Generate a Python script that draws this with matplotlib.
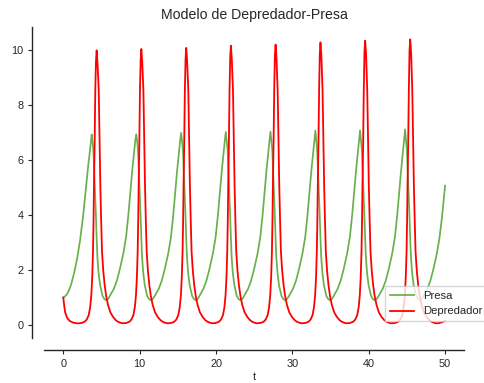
import matplotlib
matplotlib.use("Agg")
import matplotlib.pyplot as plt

titulo = "Modelo de Depredador-Presa"
etiqueta_x = "t"
nombres = ["Presa", "Depredador"]
x_ticks = [0, 10, 20, 30, 40, 50]
y_ticks = [0, 2, 4, 6, 8, 10]

t_presa = [
    0.00, 0.25, 0.50, 0.75, 1.00, 1.40, 1.80, 2.20, 2.60, 3.00, 3.30, 3.50, 3.72, 3.82, 3.94, 4.05, 4.15, 4.27, 4.37, 4.47, 4.62, 4.82, 5.14, 5.37, 5.57, 5.87,
    6.12, 6.62, 7.02, 7.42, 7.86, 8.22, 8.52, 8.77, 9.02, 9.29, 9.42, 9.55, 9.67, 9.79, 9.90, 10.00, 10.12, 10.22, 10.32, 10.47, 10.67, 10.99, 11.22, 11.42, 11.72,
    12.00, 12.50, 12.90, 13.30, 13.74, 14.10, 14.40, 14.65, 14.90, 15.17, 15.30, 15.43, 15.55, 15.67, 15.78, 15.88, 16.00, 16.10, 16.20, 16.35, 16.55, 16.87, 17.10, 17.30, 17.60,
    17.85, 18.35, 18.75, 19.15, 19.59, 19.95, 20.25, 20.50, 20.75, 21.02, 21.15, 21.28, 21.40, 21.52, 21.63, 21.73, 21.85, 21.95, 22.05, 22.20, 22.40, 22.72, 22.95, 23.15, 23.45,
    23.70, 24.20, 24.60, 25.00, 25.44, 25.80, 26.10, 26.35, 26.60, 26.87, 27.00, 27.13, 27.25, 27.37, 27.48, 27.58, 27.70, 27.80, 27.90, 28.05, 28.25, 28.57, 28.80, 29.00, 29.30,
    29.58, 30.08, 30.48, 30.88, 31.32, 31.68, 31.98, 32.23, 32.48, 32.75, 32.88, 33.01, 33.13, 33.25, 33.36, 33.46, 33.58, 33.68, 33.78, 33.93, 34.13, 34.45, 34.68, 34.88, 35.18,
    35.43, 35.93, 36.33, 36.73, 37.17, 37.53, 37.83, 38.08, 38.33, 38.60, 38.73, 38.86, 38.98, 39.10, 39.21, 39.31, 39.43, 39.53, 39.63, 39.78, 39.98, 40.30, 40.53, 40.73, 41.03,
    41.33, 41.83, 42.23, 42.63, 43.07, 43.43, 43.73, 43.98, 44.23, 44.50, 44.63, 44.76, 44.88, 45.00, 45.11, 45.21, 45.33, 45.43, 45.53, 45.68, 45.88, 46.20, 46.43, 46.63, 46.93,
    47.18, 47.68, 48.08, 48.48, 48.92, 49.28, 49.58, 50.00,
]
presa = [
    1.00, 1.05, 1.13, 1.27, 1.45, 1.87, 2.40, 3.09, 3.98, 5.09, 5.90, 6.36, 6.93, 6.70, 6.36, 5.60, 4.95, 4.00, 3.15, 2.45, 1.90, 1.45, 1.06, 0.95, 0.91, 0.95,
    1.07, 1.32, 1.62, 2.05, 2.60, 3.20, 4.00, 4.80, 5.60, 6.36, 6.70, 6.94, 6.70, 6.36, 5.60, 4.95, 4.00, 3.15, 2.45, 1.90, 1.45, 1.06, 0.95, 0.91, 0.95,
    1.07, 1.32, 1.62, 2.05, 2.60, 3.20, 4.00, 4.80, 5.60, 6.36, 6.70, 6.99, 6.70, 6.36, 5.60, 4.95, 4.00, 3.15, 2.45, 1.90, 1.45, 1.06, 0.95, 0.91, 0.95,
    1.07, 1.32, 1.62, 2.05, 2.60, 3.20, 4.00, 4.80, 5.60, 6.36, 6.70, 7.02, 6.70, 6.36, 5.60, 4.95, 4.00, 3.15, 2.45, 1.90, 1.45, 1.06, 0.95, 0.91, 0.95,
    1.07, 1.32, 1.62, 2.05, 2.60, 3.20, 4.00, 4.80, 5.60, 6.36, 6.70, 7.04, 6.70, 6.36, 5.60, 4.95, 4.00, 3.15, 2.45, 1.90, 1.45, 1.06, 0.95, 0.91, 0.95,
    1.07, 1.32, 1.62, 2.05, 2.60, 3.20, 4.00, 4.80, 5.60, 6.36, 6.70, 7.07, 6.70, 6.36, 5.60, 4.95, 4.00, 3.15, 2.45, 1.90, 1.45, 1.06, 0.95, 0.91, 0.95,
    1.07, 1.32, 1.62, 2.05, 2.60, 3.20, 4.00, 4.80, 5.60, 6.36, 6.70, 7.08, 6.70, 6.36, 5.60, 4.95, 4.00, 3.15, 2.45, 1.90, 1.45, 1.06, 0.95, 0.91, 0.95,
    1.07, 1.32, 1.62, 2.05, 2.60, 3.20, 4.00, 4.80, 5.60, 6.36, 6.70, 7.12, 6.70, 6.36, 5.60, 4.95, 4.00, 3.15, 2.45, 1.90, 1.45, 1.06, 0.95, 0.91, 0.95,
    1.07, 1.32, 1.62, 2.05, 2.60, 3.20, 3.90, 5.07,
]

t_depredador = [
    0.00, 0.13, 0.26, 0.50, 0.84, 1.30, 1.93,
    2.37, 2.80, 3.07, 3.33, 3.52, 3.67, 3.79, 3.89, 3.96, 4.02, 4.11, 4.19, 4.28, 4.37, 4.49, 4.64, 4.75, 4.85, 4.95, 5.07, 5.24, 5.42, 5.62, 5.86, 6.17, 6.51, 6.87, 7.17, 7.47, 7.77,
    8.22, 8.65, 8.92, 9.18, 9.37, 9.52, 9.64, 9.74, 9.81, 9.87, 9.96, 10.04, 10.13, 10.22, 10.34, 10.49, 10.60, 10.70, 10.80, 10.92, 11.09, 11.27, 11.47, 11.71, 12.02, 12.36, 12.72, 13.02, 13.32, 13.62,
    14.10, 14.53, 14.80, 15.06, 15.25, 15.40, 15.52, 15.62, 15.69, 15.75, 15.84, 15.92, 16.01, 16.10, 16.22, 16.37, 16.48, 16.58, 16.68, 16.80, 16.97, 17.15, 17.35, 17.59, 17.90, 18.24, 18.60, 18.90, 19.20, 19.50,
    19.95, 20.38, 20.65, 20.91, 21.10, 21.25, 21.37, 21.47, 21.54, 21.60, 21.69, 21.77, 21.86, 21.95, 22.07, 22.22, 22.33, 22.43, 22.53, 22.65, 22.82, 23.00, 23.20, 23.44, 23.75, 24.09, 24.45, 24.75, 25.05, 25.35,
    25.80, 26.23, 26.50, 26.76, 26.95, 27.10, 27.22, 27.32, 27.39, 27.45, 27.54, 27.62, 27.71, 27.80, 27.92, 28.07, 28.18, 28.28, 28.38, 28.50, 28.67, 28.85, 29.05, 29.29, 29.60, 29.94, 30.30, 30.60, 30.90, 31.20,
    31.68, 32.11, 32.38, 32.64, 32.83, 32.98, 33.10, 33.20, 33.27, 33.33, 33.42, 33.50, 33.59, 33.68, 33.80, 33.95, 34.06, 34.16, 34.26, 34.38, 34.55, 34.73, 34.93, 35.17, 35.48, 35.82, 36.18, 36.48, 36.78, 37.08,
    37.53, 37.96, 38.23, 38.49, 38.68, 38.83, 38.95, 39.05, 39.12, 39.18, 39.27, 39.35, 39.44, 39.53, 39.65, 39.80, 39.91, 40.01, 40.11, 40.23, 40.40, 40.58, 40.78, 41.02, 41.33, 41.67, 42.03, 42.33, 42.63, 42.93,
    43.43, 43.86, 44.13, 44.39, 44.58, 44.73, 44.85, 44.95, 45.02, 45.08, 45.17, 45.25, 45.34, 45.43, 45.55, 45.70, 45.81, 45.91, 46.01, 46.13, 46.30, 46.48, 46.68, 46.92, 47.23, 47.57, 47.93, 48.23, 48.53, 48.83,
    49.28, 50.00,
]
depredador = [
    1.00, 0.68, 0.45, 0.26, 0.15, 0.09, 0.06,
    0.075, 0.12, 0.20, 0.36, 0.65, 1.09, 1.75, 2.67, 3.77, 5.09, 6.70, 8.55, 9.59, 9.99, 9.49, 8.55, 6.80, 5.09, 3.90, 2.67, 1.95, 1.45, 1.05, 0.73, 0.46, 0.30, 0.18, 0.12, 0.085, 0.065,
    0.075, 0.12, 0.20, 0.36, 0.65, 1.09, 1.75, 2.67, 3.77, 5.09, 6.70, 8.55, 9.64, 10.04, 9.54, 8.55, 6.80, 5.09, 3.90, 2.67, 1.95, 1.45, 1.05, 0.73, 0.46, 0.30, 0.18, 0.12, 0.085, 0.065,
    0.075, 0.12, 0.20, 0.36, 0.65, 1.09, 1.75, 2.67, 3.77, 5.09, 6.70, 8.55, 9.68, 10.08, 9.58, 8.55, 6.80, 5.09, 3.90, 2.67, 1.95, 1.45, 1.05, 0.73, 0.46, 0.30, 0.18, 0.12, 0.085, 0.065,
    0.075, 0.12, 0.20, 0.36, 0.65, 1.09, 1.75, 2.67, 3.77, 5.09, 6.70, 8.55, 9.76, 10.16, 9.66, 8.55, 6.80, 5.09, 3.90, 2.67, 1.95, 1.45, 1.05, 0.73, 0.46, 0.30, 0.18, 0.12, 0.085, 0.065,
    0.075, 0.12, 0.20, 0.36, 0.65, 1.09, 1.75, 2.67, 3.77, 5.09, 6.70, 8.55, 9.80, 10.20, 9.70, 8.55, 6.80, 5.09, 3.90, 2.67, 1.95, 1.45, 1.05, 0.73, 0.46, 0.30, 0.18, 0.12, 0.085, 0.065,
    0.075, 0.12, 0.20, 0.36, 0.65, 1.09, 1.75, 2.67, 3.77, 5.09, 6.70, 8.55, 9.88, 10.28, 9.78, 8.55, 6.80, 5.09, 3.90, 2.67, 1.95, 1.45, 1.05, 0.73, 0.46, 0.30, 0.18, 0.12, 0.085, 0.065,
    0.075, 0.12, 0.20, 0.36, 0.65, 1.09, 1.75, 2.67, 3.77, 5.09, 6.70, 8.55, 9.94, 10.34, 9.84, 8.55, 6.80, 5.09, 3.90, 2.67, 1.95, 1.45, 1.05, 0.73, 0.46, 0.30, 0.18, 0.12, 0.085, 0.065,
    0.075, 0.12, 0.20, 0.36, 0.65, 1.09, 1.75, 2.67, 3.77, 5.09, 6.70, 8.55, 9.99, 10.39, 9.89, 8.55, 6.80, 5.09, 3.90, 2.67, 1.95, 1.45, 1.05, 0.73, 0.46, 0.30, 0.18, 0.12, 0.085, 0.065,
    0.075, 0.15,
]

plt.rcParams['font.family'] = ['Liberation Sans', 'DejaVu Sans']
texto = '#262626'

fig = plt.figure(figsize=(4.85, 3.83), dpi=100)
ax = fig.add_axes([44.2 / 485, 45 / 383, 420 / 485, 311 / 383])
ax.plot(t_presa, presa, color='#6ab04c', lw=1.25, label=nombres[0])
ax.plot(t_depredador, depredador, color='#ff0000', lw=1.3, label=nombres[1])

ax.set_xlim(-2.5, 52.5)
ax.set_ylim(-0.47, 10.84)
ax.set_xticks(x_ticks)
ax.set_yticks(y_ticks)
for s in ['top', 'right']:
    ax.spines[s].set_visible(False)
for s in ['left', 'bottom']:
    ax.spines[s].set_position(('outward', 8.64))
    ax.spines[s].set_color(texto)
    ax.spines[s].set_linewidth(1.0)
ax.tick_params(axis='both', colors=texto, labelsize=7.8, length=2.9, width=0.8, pad=3.5)
ax.set_title(titulo, fontsize=10.15, color=texto, pad=6)
ax.set_xlabel(etiqueta_x, fontsize=7.8, color=texto, labelpad=2)

leg = ax.legend(loc='lower left', bbox_to_anchor=(0.812, 0.0547), borderaxespad=0,
                fontsize=8.1, frameon=True, fancybox=False, framealpha=0.8,
                edgecolor='#cccccc', borderpad=0.4, handlelength=2.2, handletextpad=0.8)
for txt in leg.get_texts():
    txt.set_color(texto)

fig.savefig('out.png', dpi=100)
